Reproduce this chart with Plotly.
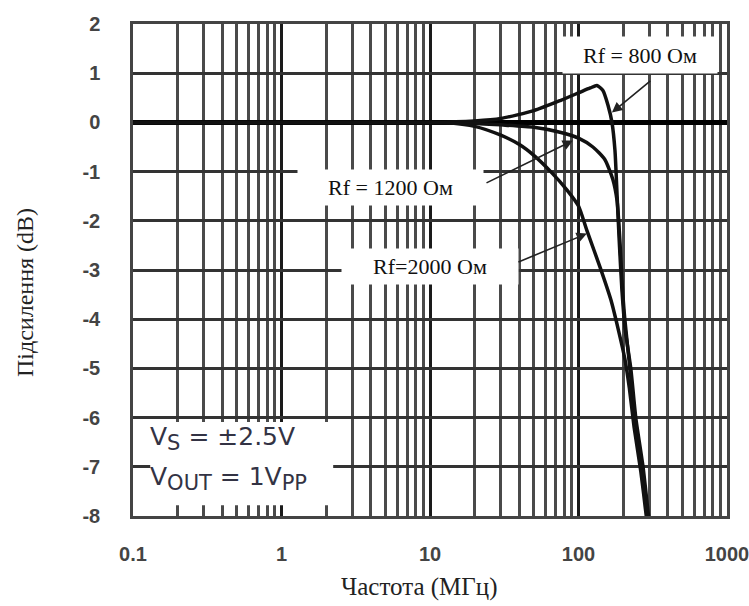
import plotly.graph_objects as go

# ---- data ----
f_800 = [0.1, 10, 20, 30, 50, 76, 100, 120, 133, 146, 158, 168, 176, 182, 188, 196, 206, 225, 243, 272, 295, 305]
g_800 = [0, 0, 0.03, 0.08, 0.24, 0.45, 0.6, 0.7, 0.75, 0.65, 0.35, 0.0, -0.57, -1.5, -2.4, -3.4, -4.2, -5.0, -6.0, -7.0, -7.95, -8.3]

f_1200 = [0.1, 10, 18, 30, 50, 75, 100, 125, 150, 170, 182, 190, 197, 205, 222, 240, 268, 290, 300]
g_1200 = [0, 0, -0.01, -0.05, -0.1, -0.2, -0.32, -0.5, -0.75, -1.15, -1.6, -2.4, -3.3, -4.0, -5.0, -6.0, -7.0, -7.95, -8.3]

f_2000 = [0.1, 10, 14, 20, 30, 40, 50, 65, 84, 100, 114, 140, 165, 185, 205, 220, 237, 263, 286, 296]
g_2000 = [0, 0, -0.01, -0.08, -0.26, -0.45, -0.67, -1.0, -1.38, -1.7, -2.2, -2.95, -3.6, -4.2, -4.8, -5.4, -6.2, -7.1, -8.0, -8.4]

x_tickvals = [0.1, 1, 10, 100, 1000]
x_ticktext = ["0.1", "1", "10", "100", "1000"]
minor_vals = [m * 10 ** e for e in range(-1, 3) for m in range(2, 10)]
y_tickvals = list(range(-8, 3))
y_ticktext = [str(v) for v in y_tickvals]

series = [("Rf = 800 Ом", f_800, g_800),
          ("Rf = 1200 Ом", f_1200, g_1200),
          ("Rf=2000 Ом", f_2000, g_2000)]

fig = go.Figure()
for name, f, g in series:
    fig.add_trace(go.Scatter(x=f, y=g, mode="lines", name=name,
                             line=dict(color="#111111", width=3.5, shape="spline", smoothing=0.6),
                             showlegend=False))

tick_font = dict(family="Liberation Sans, Arial, sans-serif", size=20, color="#444444", weight="bold")

fig.update_xaxes(type="log", range=[-1, 3], tickmode="array", tickvals=x_tickvals, ticktext=x_ticktext,
                 showgrid=True, gridcolor="#1a1a1a", gridwidth=3,
                 minor=dict(tickmode="array", tickvals=minor_vals, showgrid=True,
                            gridcolor="#4a4a4a", gridwidth=2.5, ticks=""),
                 showline=True, linecolor="#444444", linewidth=2.5, mirror=True,
                 ticks="", tickfont=tick_font, ticklabelstandoff=18, zeroline=False,
                 ticklabeloverflow="allow", automargin=False)
fig.update_yaxes(range=[-8, 2], tickmode="array", tickvals=y_tickvals, ticktext=y_ticktext,
                 showgrid=True, gridcolor="#333333", gridwidth=2.5,
                 zeroline=True, zerolinecolor="#000000", zerolinewidth=4.5,
                 showline=True, linecolor="#444444", linewidth=2.5, mirror=True,
                 ticks="", tickfont=tick_font, ticklabelstandoff=26, automargin=False)

# white area behind the supply-condition text (covers the grid there; no curve passes it)
fig.add_shape(type="rect", xref="paper", yref="paper", x0=0.029, x1=0.337, y0=0.022, y1=0.191,
              fillcolor="white", line=dict(width=0), layer="above")

serif = "Liberation Serif, Times New Roman, serif"
label_font = dict(family=serif, size=22, color="#111111")

# labels with white boxes
box = dict(xref="paper", yref="paper", xanchor="center", yanchor="middle",
           showarrow=False, bgcolor="white", font=label_font)
fig.add_annotation(text="Rf = 800 Ом", x=0.853, y=0.937, width=152, height=34, **box)
fig.add_annotation(text="Rf = 1200 Ом", x=0.434, y=0.667, width=183, height=33, **box)
fig.add_annotation(text="Rf=2000 Ом", x=0.500, y=0.508, width=174, height=33, **box)

# arrows
arrow_style = dict(showarrow=True, arrowhead=2, arrowsize=1.3, arrowwidth=1.6,
                   arrowcolor="#222222", text="", standoff=0)
fig.add_annotation(x=2.225, y=0.2, ax=40, ay=-33, **arrow_style)
fig.add_annotation(x=1.963, y=-0.37, ax=-88, ay=43, **arrow_style)
fig.add_annotation(x=2.057, y=-2.26, ax=-70, ay=29, **arrow_style)

# supply conditions
cond_font = dict(family="DejaVu Sans, Liberation Sans, sans-serif", size=25, color="#333344")
sub = "<sub><span style='font-size:21px'>{}</span></sub>"
fig.add_annotation(text="V" + sub.format("S") + " = ±2.5V", xref="paper", yref="paper", x=0.025, y=0.157,
                   xanchor="left", yanchor="middle", showarrow=False, font=cond_font)
fig.add_annotation(text="V" + sub.format("OUT") + " = 1V" + sub.format("PP"), xref="paper", yref="paper",
                   x=0.025, y=0.077, xanchor="left", yanchor="middle", showarrow=False, font=cond_font)

# axis titles
fig.add_annotation(text="Частота (МГц)", xref="paper", yref="paper", x=0.483, y=-0.144,
                   xanchor="center", yanchor="middle", showarrow=False,
                   font=dict(family=serif, size=25, color="#222222"))
fig.add_annotation(text="Підсилення (dB)", xref="paper", yref="paper", x=-0.182, y=0.455,
                   xanchor="center", yanchor="middle", showarrow=False, textangle=-90,
                   font=dict(family=serif, size=24, color="#222222"))

fig.update_layout(width=749, height=606, margin=dict(l=133, r=22, t=24, b=90),
                  paper_bgcolor="white", plot_bgcolor="white", showlegend=False)

fig.write_html("out.html")
